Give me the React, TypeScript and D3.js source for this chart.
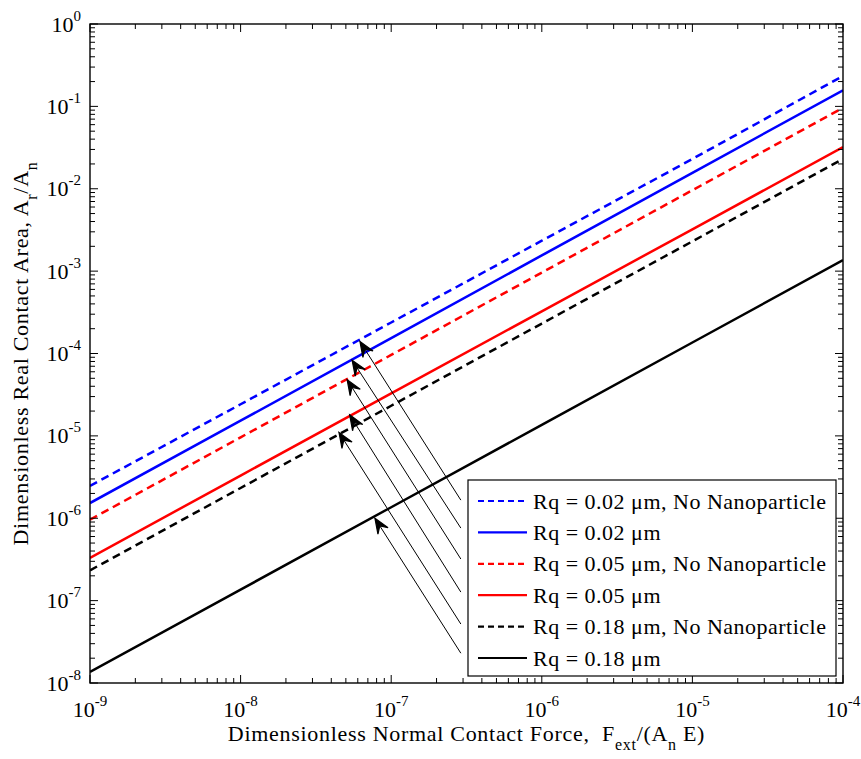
import React from 'react'
import * as d3 from 'd3'

// dimensionless normal contact force, one sample per decade
const forces = [1e-9, 1e-8, 1e-7, 1e-6, 1e-5, 1e-4]

const areaRq002NoNano = [2.47e-6, 2.42e-5, 2.38e-4, 2.34e-3, 2.3e-2, 0.234]
const areaRq002 = [1.53e-6, 1.53e-5, 1.54e-4, 1.55e-3, 1.56e-2, 0.157]
const areaRq005NoNano = [9.6e-7, 9.6e-6, 9.6e-5, 9.6e-4, 9.6e-3, 0.096]
const areaRq005 = [3.3e-7, 3.3e-6, 3.28e-5, 3.25e-4, 3.22e-3, 0.032]
const areaRq018NoNano = [2.33e-7, 2.33e-6, 2.32e-5, 2.31e-4, 2.3e-3, 0.023]
const areaRq018 = [1.36e-8, 1.36e-7, 1.36e-6, 1.36e-5, 1.36e-4, 1.36e-3]

const seriesLabels = [
  'Rq = 0.02 \u03bcm, No Nanoparticle',
  'Rq = 0.02 \u03bcm',
  'Rq = 0.05 \u03bcm, No Nanoparticle',
  'Rq = 0.05 \u03bcm',
  'Rq = 0.18 \u03bcm, No Nanoparticle',
  'Rq = 0.18 \u03bcm',
]
const seriesColors = ['#0000ff', '#0000ff', '#ff0000', '#ff0000', '#000000', '#000000']
const seriesDashed = [true, false, true, false, true, false]

// annotation arrows (data coords), tail -> head
const arrowTailX = [2.9e-7, 2.9e-7, 2.9e-7, 2.9e-7, 2.9e-7, 2.9e-7]
const arrowTailY = [1.66e-6, 7.6e-7, 3.2e-7, 1.27e-7, 5.2e-8, 2.3e-8]
const arrowHeadX = [6.2e-8, 5.5e-8, 5.1e-8, 5.3e-8, 4.5e-8, 7.8e-8]
const arrowHeadY = [1.4e-4, 8.3e-5, 4.8e-5, 1.8e-5, 1.1e-5, 1.0e-6]

const xTickExps = ['-9', '-8', '-7', '-6', '-5', '-4']
const yTickExps = ['-8', '-7', '-6', '-5', '-4', '-3', '-2', '-1', '0']

const W = 861
const H = 759
const left = 90
const right = 843
const top = 24
const bottom = 683
const font = '"Liberation Serif", "Times New Roman", serif'

export default function App() {
  const series = [
    areaRq002NoNano,
    areaRq002,
    areaRq005NoNano,
    areaRq005,
    areaRq018NoNano,
    areaRq018,
  ]

  const x = d3.scaleLog().domain([1e-9, 1e-4]).range([left, right])
  const y = d3.scaleLog().domain([1e-8, 1]).range([bottom, top])

  const line = d3
    .line<number>()
    .x((d, i) => x(forces[i]))
    .y((d) => y(d))

  const xMajor = xTickExps.map((e) => Math.pow(10, +e))
  const yMajor = yTickExps.map((e) => Math.pow(10, +e))
  const isMajor = (v: number) => Math.abs(Math.log10(v) - Math.round(Math.log10(v))) < 1e-6
  const xMinor = x.ticks().filter((t) => !isMajor(t))
  const yMinor = y.ticks().filter((t) => !isMajor(t))

  const majorLen = 8
  const minorLen = 5

  const arrowHead = (i: number) => {
    const hx = x(arrowHeadX[i])
    const hy = y(arrowHeadY[i])
    const tx = x(arrowTailX[i])
    const ty = y(arrowTailY[i])
    const ang = (Math.atan2(hy - ty, hx - tx) * 180) / Math.PI
    const L = 15
    const Wd = 12
    const pts = [
      [0, 0],
      [-L, Wd / 2],
      [-L * 0.6, 0],
      [-L, -Wd / 2],
    ]
    return (
      <g key={'a' + i}>
        <line x1={tx} y1={ty} x2={hx} y2={hy} stroke="#000" strokeWidth={1} />
        <polygon
          points={pts.map((p) => p.join(',')).join(' ')}
          transform={`translate(${hx},${hy}) rotate(${ang})`}
          fill="#000"
          stroke="#000"
          strokeWidth={1.2}
          strokeLinejoin="miter"
        />
      </g>
    )
  }

  const legendX = 468
  const legendY = 480
  const legendW = 368
  const legendH = 196
  const rowGap = 31.4

  return (
    <svg
      width={W}
      height={H}
      style={{position: 'absolute', left: 0, top: 0, background: '#fff'}}
      fontFamily={font}
    >
      <rect x={0} y={0} width={W} height={H} fill="#fff" />

      <clipPath id="plotClip">
        <rect x={left} y={top} width={right - left} height={bottom - top} />
      </clipPath>

      {/* data lines */}
      <g clipPath="url(#plotClip)">
        {series.map((s, i) => (
          <path
            key={'s' + i}
            d={line(s) || ''}
            fill="none"
            stroke={seriesColors[i]}
            strokeWidth={2.5}
            strokeDasharray={seriesDashed[i] ? '8,5' : undefined}
          />
        ))}
      </g>

      {/* arrows */}
      {series.map((s, i) => arrowHead(i))}

      {/* axes box */}
      <rect
        x={left}
        y={top}
        width={right - left}
        height={bottom - top}
        fill="none"
        stroke="#000"
        strokeWidth={1.4}
      />

      {/* ticks on all four sides */}
      <g stroke="#000" strokeWidth={1}>
        {xMajor.map((t, i) => (
          <g key={'xM' + i}>
            <line x1={x(t)} x2={x(t)} y1={bottom} y2={bottom - majorLen} />
            <line x1={x(t)} x2={x(t)} y1={top} y2={top + majorLen} />
          </g>
        ))}
        {xMinor.map((t, i) => (
          <g key={'xm' + i}>
            <line x1={x(t)} x2={x(t)} y1={bottom} y2={bottom - minorLen} />
            <line x1={x(t)} x2={x(t)} y1={top} y2={top + minorLen} />
          </g>
        ))}
        {yMajor.map((t, i) => (
          <g key={'yM' + i}>
            <line x1={left} x2={left + majorLen} y1={y(t)} y2={y(t)} />
            <line x1={right} x2={right - majorLen} y1={y(t)} y2={y(t)} />
          </g>
        ))}
        {yMinor.map((t, i) => (
          <g key={'ym' + i}>
            <line x1={left} x2={left + minorLen} y1={y(t)} y2={y(t)} />
            <line x1={right} x2={right - minorLen} y1={y(t)} y2={y(t)} />
          </g>
        ))}
      </g>

      {/* tick labels */}
      {xMajor.map((t, i) => (
        <text key={'xl' + i} x={x(t)} y={717} textAnchor="middle" fontSize={22} fill="#000">
          10
          <tspan fontSize={15} dy={-11}>
            {xTickExps[i]}
          </tspan>
        </text>
      ))}
      {yMajor.map((t, i) => (
        <text key={'yl' + i} x={81} y={y(t) + 7.5} textAnchor="end" fontSize={22} fill="#000">
          10
          <tspan fontSize={15} dy={-11}>
            {yTickExps[i]}
          </tspan>
        </text>
      ))}

      {/* axis labels */}
      <text
        x={(left + right) / 2}
        y={741}
        textAnchor="middle"
        fontSize={22}
        letterSpacing={0.7}
        fill="#000"
      >
        Dimensionless Normal Contact Force,{'\u00a0\u00a0'}F
        <tspan fontSize={16} dy={9}>
          ext
        </tspan>
        <tspan dy={-9}>/(A</tspan>
        <tspan fontSize={16} dy={9}>
          n
        </tspan>
        <tspan dy={-9}>{'\u00a0'}E)</tspan>
      </text>
      <text
        transform={`translate(28,${(top + bottom) / 2}) rotate(-90)`}
        textAnchor="middle"
        fontSize={22}
        letterSpacing={0.7}
        fill="#000"
      >
        Dimensionless Real Contact Area, A
        <tspan fontSize={16} dy={9}>
          r
        </tspan>
        <tspan dy={-9}>/A</tspan>
        <tspan fontSize={16} dy={9}>
          n
        </tspan>
      </text>

      {/* legend */}
      <rect
        x={legendX}
        y={legendY}
        width={legendW}
        height={legendH}
        fill="#fff"
        stroke="#000"
        strokeWidth={1.2}
      />
      {seriesLabels.map((lab, i) => {
        const cy = legendY + 21 + i * rowGap
        return (
          <g key={'lg' + i}>
            <line
              x1={legendX + 10}
              x2={legendX + 59}
              y1={cy}
              y2={cy}
              stroke={seriesColors[i]}
              strokeWidth={2.2}
              strokeDasharray={seriesDashed[i] ? '6,4' : undefined}
            />
            <text
              x={legendX + 65}
              y={cy + 7.5}
              fontSize={22}
              letterSpacing={0.5}
              fill="#000"
            >
              {lab}
            </text>
          </g>
        )
      })}
    </svg>
  )
}
